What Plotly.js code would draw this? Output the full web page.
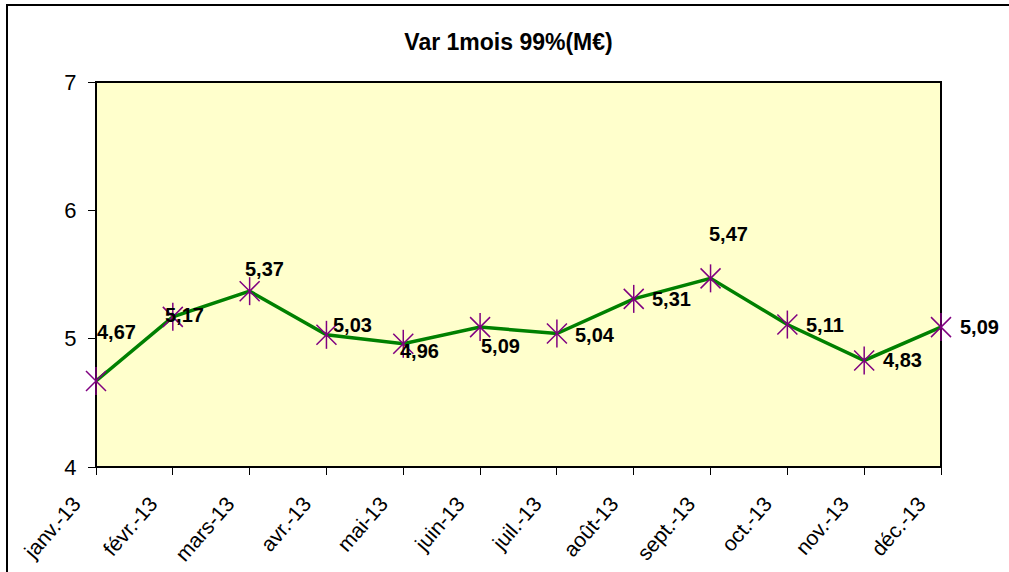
<!DOCTYPE html>
<html>
<head>
<meta charset="utf-8">
<script src="https://cdn.plot.ly/plotly-3.0.1.min.js"></script>
<style>html,body{margin:0;padding:0;background:#fff;}#chart{width:1009px;height:572px;}</style>
</head>
<body>
<div id="chart"></div>
<script>
var months = ["janv.-13","févr.-13","mars-13","avr.-13","mai-13","juin-13","juil.-13","août-13","sept.-13","oct.-13","nov.-13","déc.-13"];
var varValues = [4.67, 5.17, 5.37, 5.03, 4.96, 5.09, 5.04, 5.31, 5.47, 5.11, 4.83, 5.09];
var labelShiftX = [20, 12, 15, 26, 16, 20, 38, 38, 18, 38, 38, 38];
var labelShiftY = [49, 2, 22, 10, -7, -19, -1, 0, 44, 0, 0, 0];
var yTicks = [4, 5, 6, 7];

var idx = months.map(function(_, i){ return i; });
var FONT = "Liberation Sans, Arial, sans-serif";
var purple = "#800080";

var traces = [
  {x: idx, y: varValues, type: "scatter", mode: "lines", cliponaxis: false,
   line: {color: "#008000", width: 3.5}, hoverinfo: "skip"},
  {x: idx, y: varValues, type: "scatter", mode: "markers", cliponaxis: false,
   marker: {symbol: "x-thin-open", size: 20, color: purple, line: {color: purple, width: 1.5}}},
  {x: idx, y: varValues, type: "scatter", mode: "markers", cliponaxis: false,
   marker: {symbol: "line-ns-open", size: 20, color: purple, line: {color: purple, width: 1.5}}}
];

var annotations = varValues.map(function(v, i){
  return {x: i, y: v, xref: "x", yref: "y", text: "<b>" + v.toFixed(2).replace(".", ",") + "</b>",
    showarrow: false, xshift: labelShiftX[i], yshift: labelShiftY[i],
    xanchor: "center", yanchor: "middle",
    font: {family: FONT, size: 20, color: "#000"}};
});

var layout = {
  width: 1009, height: 572,
  margin: {l: 96, r: 68, t: 82, b: 105},
  paper_bgcolor: "#ffffff",
  plot_bgcolor: "#FFFFCC",
  showlegend: false,
  title: {text: "<b>Var 1mois 99%(M€)</b>", font: {family: FONT, size: 23, color: "#000"},
          xref: "container", x: 0.504, xanchor: "center", yref: "container", y: 1 - 42/572, yanchor: "middle"},
  xaxis: {
    range: [0, months.length - 1], tickmode: "array", tickvals: idx, ticktext: months,
    tickangle: -49, ticks: "outside", ticklen: 7, tickcolor: "#000", tickwidth: 1,
    ticklabelstandoff: 8, ticklabelshift: -22,
    showgrid: false, zeroline: false, showline: false,
    tickfont: {family: FONT, size: 21, color: "#000"}, fixedrange: true
  },
  yaxis: {
    range: [4, 7], tickmode: "array", tickvals: yTicks, ticktext: yTicks.map(String),
    ticks: "outside", ticklen: 7, tickcolor: "#000", tickwidth: 1,
    ticklabelstandoff: 7,
    showgrid: false, zeroline: false, showline: false,
    tickfont: {family: FONT, size: 22, color: "#000"}, fixedrange: true
  },
  shapes: [
    {type: "rect", xref: "paper", yref: "paper", x0: 0, x1: 1, y0: 0, y1: 1,
     line: {color: "#000", width: 2}, layer: "below"},
    {type: "rect", xref: "paper", yref: "paper", x0: -89/845, x1: 1.2, y0: -0.5, y1: (467-5)/385,
     line: {color: "#000", width: 2}, layer: "above"}
  ],
  annotations: annotations
};

Plotly.newPlot("chart", traces, layout, {displayModeBar: false, staticPlot: true});
</script>
</body>
</html>
